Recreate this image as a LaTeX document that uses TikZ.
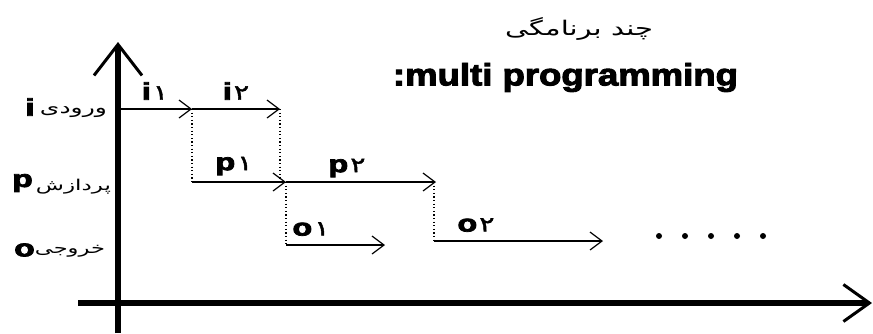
\documentclass[tikz,border=0pt]{standalone}
\usepackage{fontspec}
\usepackage{graphicx}
\setmainfont{Liberation Sans}
\newfontfamily\fafont[Script=Arabic]{DejaVu Sans}
\newfontfamily\fadigit[Script=Arabic,FakeBold=1.5]{DejaVu Sans}
\newfontfamily\heavy[FakeBold=3]{Liberation Sans Bold}
\TeXXeTstate=1
\usetikzlibrary{arrows.meta}
\newcommand\lblt[2]{\scalebox{1.35}[1]{\fontsize{24}{24}\selectfont\heavy #1\kern1.5pt{\fadigit\fontsize{21}{21}\selectfont #2}}}
\newcommand\axl[1]{\scalebox{1.4}[1]{\fontsize{24}{24}\selectfont\heavy #1}}
\tikzset{
  vaxis/.style={line width=6pt, -{Straight Barb[length=31pt, width=48pt, line width=3pt]}},
  haxis/.style={line width=6pt, -{Straight Barb[length=26pt, width=37pt, line width=3pt]}},
  flow/.style={line width=2.5pt, -{Straight Barb[length=12pt, width=18pt, line width=1.2pt]}},
  guide/.style={line width=1.2pt, dash pattern=on 1.2pt off 2.4pt},
  txt/.style={inner sep=0pt, outer sep=0pt, anchor=center},
  dotnode/.style={circle, fill=black, inner sep=0pt, minimum size=6pt}
}
\begin{document}
\begin{tikzpicture}[x=1pt, y=-1pt]
\useasboundingbox (0,0) rectangle (873,333);
% axes
\coordinate (vb) at (118,333);
\coordinate (vt) at (118,42);
\coordinate (hl) at (78,303);
\coordinate (hr) at (872,303);
\draw[vaxis] (vb) -- (vt);
\draw[haxis] (hl) -- (hr);
% time points
\coordinate (i0) at (118,109);
\coordinate (i1) at (192,109);
\coordinate (i2) at (280,109);
\coordinate (p0) at (192,182);
\coordinate (p1e) at (280,182);
\coordinate (p1) at (286,182);
\coordinate (p2) at (436,182);
\coordinate (o1s) at (286,245);
\coordinate (o1e) at (385,245);
\coordinate (o2s) at (434,241);
\coordinate (o2e) at (603,241);
\coordinate (o2t) at (434,182);
% flows
\draw[flow] (i0) -- (i1);
\draw[flow] (i1) -- (i2);
\draw[flow] (p0) -- (p1);
\draw[flow] (p1) -- (p2);
\draw[flow] (o1s) -- (o1e);
\draw[flow] (o2s) -- (o2e);
% dotted guides
\draw[guide] (i1) -- (p0);
\draw[guide] (i2) -- (p1e);
\draw[guide] (p1) -- (o1s);
\draw[guide] (o2t) -- (o2s);
% flow labels
\node[txt] (li1) at (155,91) {\lblt{i}{۱}};
\node[txt] (li2) at (236,91) {\lblt{i}{۲}};
\node[txt] (lp1) at (234,166) {\lblt{p}{۱}};
\node[txt] (lp2) at (347,168) {\lblt{p}{۲}};
\node[txt] (lo1) at (311,229) {\lblt{o}{۱}};
\node[txt] (lo2) at (476,225) {\lblt{o}{۲}};
% axis labels
\node[txt] (ai) at (30,107) {\axl{i}};
\node[txt] (ap) at (22.5,183) {\axl{p}};
\node[txt] (ao) at (24.5,250) {\axl{o}};
\node[txt] (fi) at (73.5,112) {\resizebox*{67pt}{11pt}{\fafont\beginR ورودی\endR}};
\node[txt] (fp) at (73.5,187) {\resizebox*{75pt}{15pt}{\fafont\beginR پردازش\endR}};
\node[txt] (fo) at (70,251) {\resizebox*{70pt}{12pt}{\fafont\beginR خروجی\endR}};
% titles
\node[txt] (title) at (579,28.5) {\resizebox*{148pt}{23pt}{\fafont\beginR چند برنامگی\endR}};
\node[txt] (mp) at (565.5,77.5) {\resizebox*{345pt}{29pt}{\heavy :multi programming}};
% continuation dots
\node[dotnode] (d1) at (659,236) {};
\node[dotnode] (d2) at (685,236) {};
\node[dotnode] (d3) at (711,236) {};
\node[dotnode] (d4) at (737,236) {};
\node[dotnode] (d5) at (763,236) {};
\end{tikzpicture}
\end{document}
